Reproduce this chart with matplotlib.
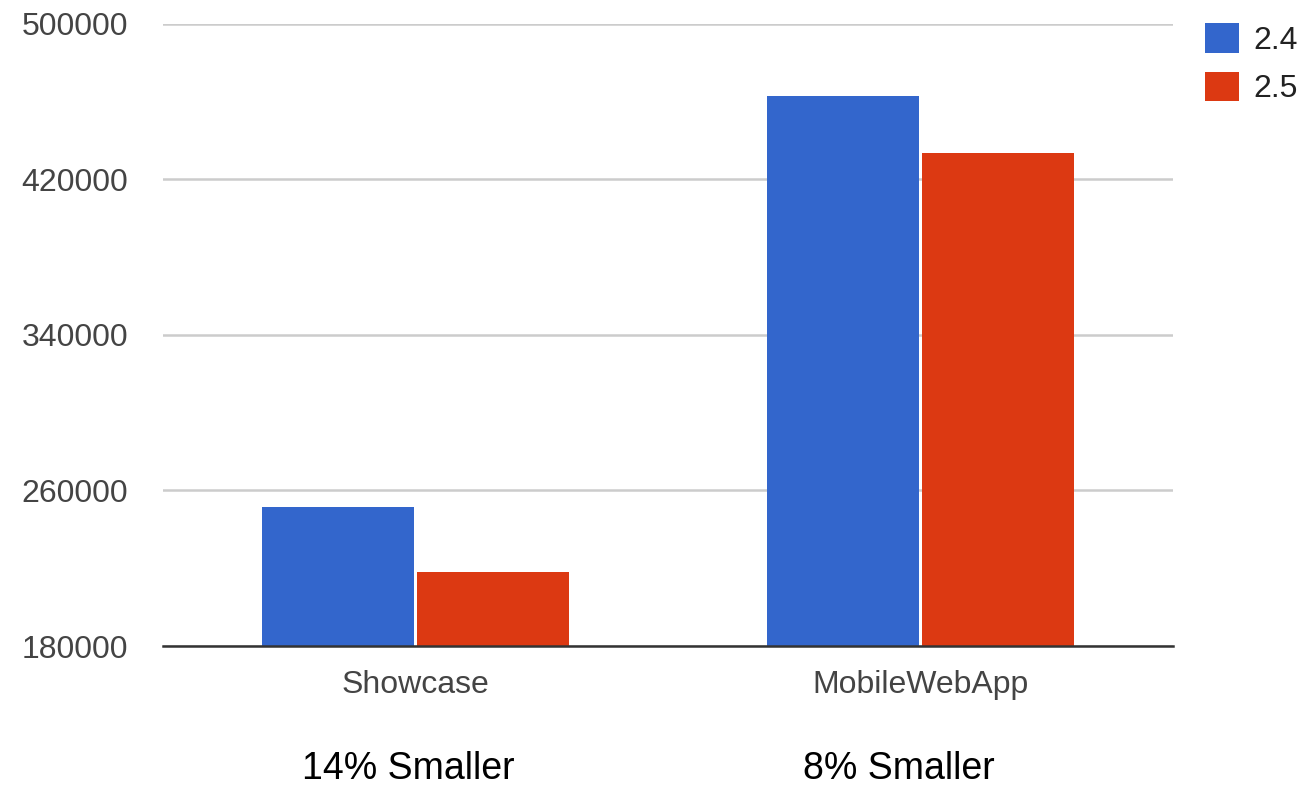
#!/usr/bin/env python3

import matplotlib
matplotlib.use('Agg')
from matplotlib import pyplot as plt
import numpy as np

categories = ['Showcase', 'MobileWebApp']
series_names = ['2.4', '2.5']
values_24 = [251700, 462800]
values_25 = [218200, 433400]
notes = ['14% Smaller', '8% Smaller']
y_ticks = [180000, 260000, 340000, 420000, 500000]

plt.rcParams['font.family'] = ['Liberation Sans', 'DejaVu Sans']

fig = plt.figure(figsize=(13.06, 7.87), dpi=100)
ax = fig.add_axes((163/1306, 141/787, 1010/1306, 622/787))

x = np.arange(len(categories))
w = 0.30
ax.bar(x - 0.153, values_24, w, color='#3366cc', label=series_names[0], zorder=3)
ax.bar(x + 0.153, values_25, w, color='#dc3912', label=series_names[1], zorder=3)

ax.set_xlim(-0.5, 1.5)
ax.set_ylim(180000, 500000)
ax.set_yticks(y_ticks)
ax.set_yticklabels([str(v) for v in y_ticks])
ax.set_xticks(x)
ax.set_xticklabels(categories)
ax.tick_params(axis='both', length=0, labelsize=23, labelcolor='#444444')
ax.tick_params(axis='y', pad=25)
ax.tick_params(axis='x', pad=17)

ax.grid(axis='y', color='#cccccc', linewidth=1.8, zorder=0)
for side in ['top', 'right', 'left']:
    ax.spines[side].set_visible(False)
ax.spines['bottom'].set_color('#333333')
ax.spines['bottom'].set_linewidth(1.8)
ax.spines['bottom'].set_zorder(4)

ax.legend(loc='upper left', bbox_to_anchor=(1205/1306, 1 - 23/787),
          bbox_transform=fig.transFigure, frameon=False, fontsize=23,
          handlelength=1.05, handleheight=1.05, handletextpad=0.45,
          labelspacing=0.5, borderaxespad=0, borderpad=0,
          labelcolor='#222222')

# the notes sit a bit left of the group centres
note_shift = [-0.015, -0.043]
for xi, note, dx in zip(x, notes, note_shift):
    ax.text(xi + dx, -0.197, note, transform=ax.get_xaxis_transform(),
            ha='center', va='center', fontsize=27, color='black')

fig.savefig('out.png', dpi=100)
